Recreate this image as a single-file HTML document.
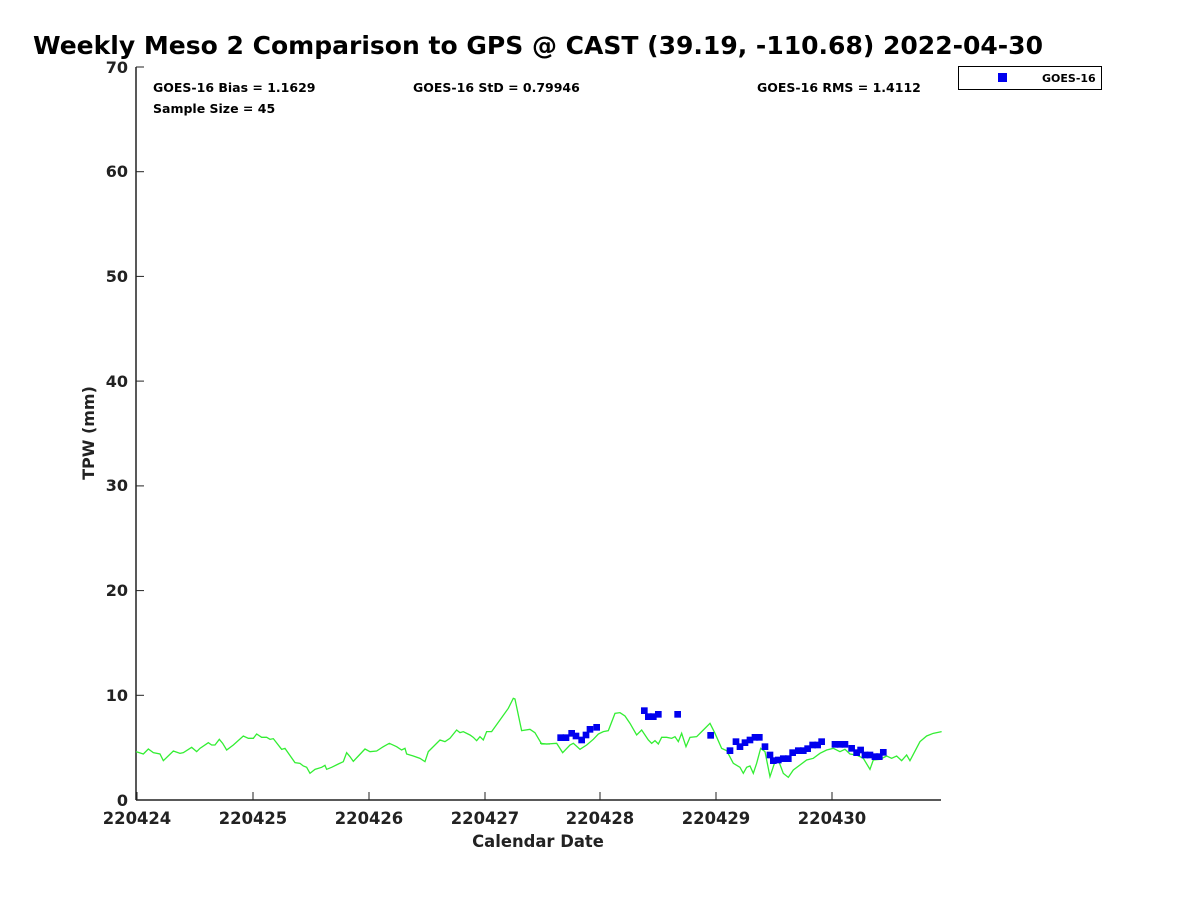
<!DOCTYPE html>
<html><head><meta charset="utf-8"><style>
body{margin:0;background:#fff;width:1200px;height:900px;overflow:hidden}
svg{font-family:"DejaVu Sans","Liberation Sans",sans-serif}
</style></head><body>
<svg width="1200" height="900" xmlns="http://www.w3.org/2000/svg">
<rect width="1200" height="900" fill="#fff"/>
<text x="33" y="54" font-size="25" font-weight="bold" fill="#000" textLength="1010" lengthAdjust="spacingAndGlyphs">Weekly Meso 2 Comparison to GPS @ CAST (39.19, -110.68) 2022-04-30</text>
<g stroke="#222" stroke-width="1.5" fill="none">
<line x1="136" y1="67" x2="136" y2="800"/>
<line x1="136" y1="800" x2="941" y2="800"/>
</g>
<g stroke="#222" stroke-width="1">
<line x1="136" y1="695.3" x2="144" y2="695.3"/><line x1="136" y1="590.6" x2="144" y2="590.6"/>
<line x1="136" y1="485.9" x2="144" y2="485.9"/><line x1="136" y1="381.1" x2="144" y2="381.1"/>
<line x1="136" y1="276.4" x2="144" y2="276.4"/><line x1="136" y1="171.7" x2="144" y2="171.7"/>
<line x1="136" y1="67" x2="144" y2="67"/>
<line x1="137" y1="800" x2="137" y2="792"/><line x1="253" y1="800" x2="253" y2="792"/>
<line x1="369" y1="800" x2="369" y2="792"/><line x1="485" y1="800" x2="485" y2="792"/>
<line x1="600" y1="800" x2="600" y2="792"/><line x1="716" y1="800" x2="716" y2="792"/>
<line x1="832" y1="800" x2="832" y2="792"/>
</g>
<g font-size="16" font-weight="bold" fill="#222" text-anchor="end">
<text x="128" y="806">0</text><text x="128" y="701">10</text><text x="128" y="596">20</text>
<text x="128" y="491">30</text><text x="128" y="387">40</text><text x="128" y="282">50</text>
<text x="128" y="177">60</text><text x="128" y="73">70</text>
</g>
<g font-size="16.4" font-weight="bold" fill="#222" text-anchor="middle">
<text x="137" y="824">220424</text><text x="253" y="824">220425</text><text x="369" y="824">220426</text>
<text x="485" y="824">220427</text><text x="600" y="824">220428</text><text x="716" y="824">220429</text>
<text x="832" y="824">220430</text>
<text x="538" y="847">Calendar Date</text>
</g>
<text transform="translate(94,433) rotate(-90)" font-size="16" font-weight="bold" fill="#222" text-anchor="middle">TPW (mm)</text>
<g font-size="12.5" font-weight="bold" fill="#000">
<text x="153" y="92">GOES-16 Bias = 1.1629</text>
<text x="153" y="113">Sample Size = 45</text>
<text x="413" y="92">GOES-16 StD = 0.79946</text>
<text x="757" y="92">GOES-16 RMS = 1.4112</text>
</g>
<rect x="958.5" y="66.5" width="143" height="23" fill="#fff" stroke="#000"/>
<rect x="998" y="73" width="9" height="9" fill="#0000ee"/>
<text x="1042" y="82" font-size="11" font-weight="bold" fill="#000">GOES-16</text>
<g transform="translate(130,680) scale(0.3333)">
<polyline fill="none" stroke="#33ee33" stroke-width="1.3" vector-effect="non-scaling-stroke" points="18,215 40,222 55,207 70,218 90,222 100,242 130,213 150,220 160,218 185,202 200,215 210,205 235,188 245,195 255,195 268,178 278,190 290,210 310,195 340,168 355,175 370,175 380,162 395,172 410,172 420,178 430,176 455,208 465,205 495,248 510,250 520,258 530,262 540,280 555,268 575,262 585,256 590,268 605,262 625,252 640,245 650,218 660,230 670,244 705,207 720,215 740,213 760,200 778,190 800,200 815,210 825,205 830,222 850,228 870,235 885,245 895,215 930,180 945,185 960,175 980,150 990,158 1000,155 1020,165 1030,172 1040,182 1050,170 1060,180 1070,155 1085,155 1110,120 1135,85 1150,55 1155,57 1175,152 1200,148 1215,158 1235,192 1260,192"/>
</g>
<g transform="translate(540,680) scale(0.3333)">
<polyline fill="none" stroke="#33ee33" stroke-width="1.3" vector-effect="non-scaling-stroke" points="0,190 20,192 50,190 68,218 90,195 100,190 120,208 140,195 160,178 175,162 190,155 205,152 225,100 240,98 255,108 270,130 290,165 305,150 325,180 335,190 345,182 355,192 365,172 380,172 395,175 405,170 415,185 425,160 438,200 450,172 470,170 490,150 510,130 525,160 545,205 560,212 580,250 600,262 610,280 620,262 630,258 640,280 650,250 662,205 675,215 690,290 705,245 715,240 730,280 745,292 760,270 780,255 800,240 820,235 840,220 860,210 880,205 900,215 915,208 930,222 950,225 970,235 990,268 1000,240 1020,238 1040,228 1055,235 1070,228 1085,242 1100,225 1110,242 1140,185 1160,168 1180,160 1205,155"/>
<g fill="#0000ee">
<rect x="52" y="163" width="20" height="20"/><rect x="68" y="163" width="20" height="20"/><rect x="85" y="150" width="20" height="20"/><rect x="98" y="158" width="20" height="20"/><rect x="115" y="170" width="20" height="20"/><rect x="128" y="155" width="20" height="20"/><rect x="140" y="138" width="20" height="20"/><rect x="160" y="132" width="20" height="20"/><rect x="303" y="82" width="20" height="20"/><rect x="315" y="100" width="20" height="20"/><rect x="330" y="100" width="20" height="20"/><rect x="345" y="93" width="20" height="20"/><rect x="403" y="93" width="20" height="20"/><rect x="502" y="156" width="20" height="20"/><rect x="560" y="202" width="20" height="20"/><rect x="578" y="175" width="20" height="20"/><rect x="590" y="190" width="20" height="20"/><rect x="605" y="178" width="20" height="20"/><rect x="620" y="170" width="20" height="20"/><rect x="635" y="162" width="20" height="20"/><rect x="648" y="162" width="20" height="20"/><rect x="665" y="190" width="20" height="20"/><rect x="680" y="215" width="20" height="20"/><rect x="690" y="232" width="20" height="20"/><rect x="705" y="230" width="20" height="20"/><rect x="720" y="226" width="20" height="20"/><rect x="735" y="226" width="20" height="20"/><rect x="748" y="208" width="20" height="20"/><rect x="765" y="202" width="20" height="20"/><rect x="780" y="202" width="20" height="20"/><rect x="793" y="196" width="20" height="20"/><rect x="808" y="185" width="20" height="20"/><rect x="823" y="185" width="20" height="20"/><rect x="835" y="175" width="20" height="20"/><rect x="875" y="183" width="20" height="20"/><rect x="890" y="183" width="20" height="20"/><rect x="905" y="183" width="20" height="20"/><rect x="925" y="195" width="20" height="20"/><rect x="940" y="208" width="20" height="20"/><rect x="952" y="200" width="20" height="20"/><rect x="965" y="215" width="20" height="20"/><rect x="980" y="215" width="20" height="20"/><rect x="995" y="220" width="20" height="20"/><rect x="1008" y="220" width="20" height="20"/><rect x="1020" y="207" width="20" height="20"/>
</g>
</g>
</svg>
</body></html>
